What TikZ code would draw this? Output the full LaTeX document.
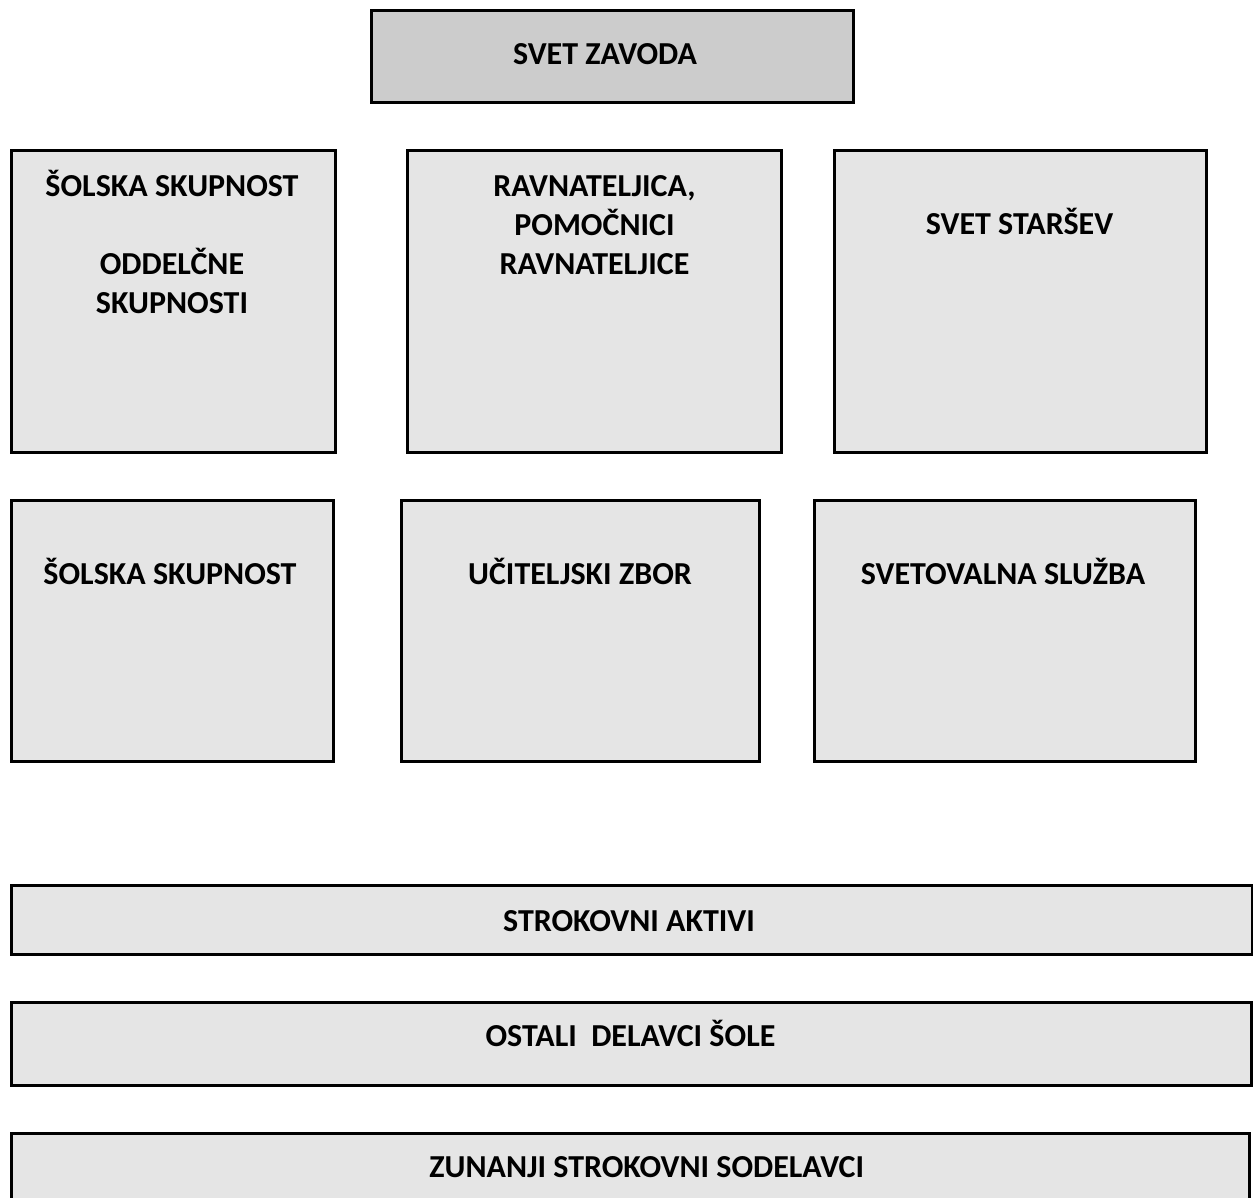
\documentclass[tikz,border=0pt]{standalone}
\usepackage{fontspec}
\setmainfont{Carlito}
\usepackage{tikz}
\tikzset{
  orgbox/.style={draw=black, line width=1.5pt, fill=black!10},
  headbox/.style={orgbox, fill=black!20},
  orglabel/.style={anchor=base, inner sep=0pt, font=\fontsize{16}{19.75}\selectfont\bfseries}
}

\begin{document}
\begin{tikzpicture}[x=0.5pt, y=-0.5pt]
		%%%%% START %%%%%
		\useasboundingbox (0, 0) rectangle (1253, 1198);
		
		\draw[headbox] (371.7, 11) rectangle (853.3, 102.3);
		\node[orglabel] (svetzavoda) at (605, 65) {SVET ZAVODA};
		
		\draw[orgbox] (11.7, 151) rectangle (335, 452.4);
		\node[orglabel] (solska) at (172, 197) {ŠOLSKA SKUPNOST};
		\node[orglabel] (oddelcne) at (172, 275) {ODDELČNE};
		\node[orglabel] (skupnosti) at (172, 314) {SKUPNOSTI};
		
		\draw[orgbox] (407.7, 151) rectangle (781, 452.4);
		\node[orglabel] (ravnateljica) at (594.5, 197) {RAVNATELJICA,};
		\node[orglabel] (pomocnici) at (594.5, 236) {POMOČNICI};
		\node[orglabel] (ravnateljice) at (594.5, 275) {RAVNATELJICE};
		
		\draw[orgbox] (834.3, 151) rectangle (1206, 452.4);
		\node[orglabel] (starsi) at (1019.5, 235) {SVET STARŠEV};
		
		\draw[orgbox] (11.7, 500) rectangle (333.3, 761.7);
		\node[orglabel] (skupnost) at (170, 584) {ŠOLSKA SKUPNOST};
		
		\draw[orgbox] (401.7, 500) rectangle (759.3, 761.7);
		\node[orglabel] (zbor) at (580, 584) {UČITELJSKI ZBOR};
		
		\draw[orgbox] (814.3, 500) rectangle (1195, 761.7);
		\node[orglabel] (svetovalna) at (1003, 584) {SVETOVALNA SLUŽBA};
		
		\draw[orgbox] (11.7, 885.3) rectangle (1252, 954.7);
		\node[orglabel] (aktivi) at (629, 931.5) {STROKOVNI AKTIVI};
		
		\draw[orgbox] (11.7, 1002) rectangle (1251.5, 1085.3);
		\node[orglabel] (delavci) at (630.5, 1046.7) {OSTALI\ \ DELAVCI ŠOLE};
		
		\draw[orgbox] (11.7, 1133) rectangle (1249.5, 1230);
		\node[orglabel] (sodelavci) at (646.7, 1177.5) {ZUNANJI STROKOVNI SODELAVCI};
		
		%%%%% END %%%%%
\end{tikzpicture}
\end{document}
